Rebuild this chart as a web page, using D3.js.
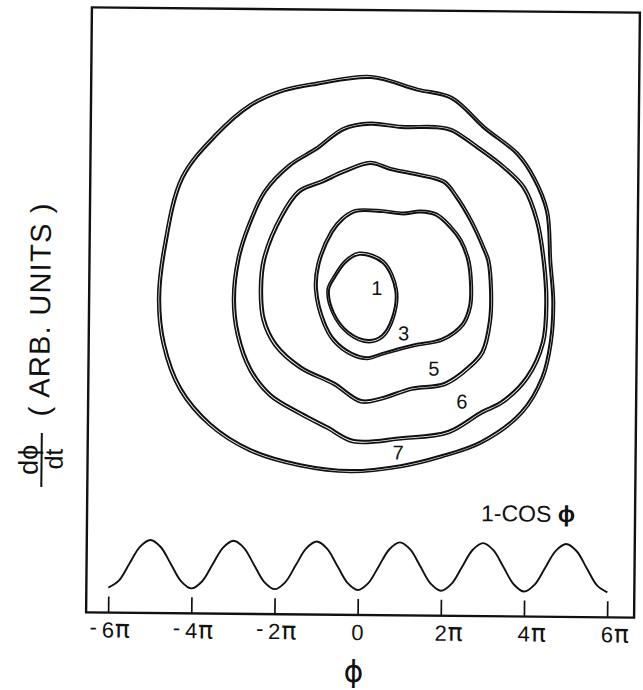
<!DOCTYPE html>
<html><head><meta charset="utf-8">
<script src="https://cdn.jsdelivr.net/npm/d3@7"></script>
<style>body{margin:0;background:#fff} svg{display:block}</style>
</head><body>
<svg id="c" width="643" height="690"></svg>
<script>
// ---- data (phi in units of pi, dphi/dt in arbitrary units) ----
const xTicks = [-6, -4, -2, 0, 2, 4, 6];
const xTickDigits = ["6", "4", "2", "0", "2", "4", "6"];
const xTickSigns = ["-", "-", "-", "", "", "", ""];
const xTickPi = ["π", "π", "π", "", "π", "π", "π"];

const orbitLabels = ["1", "3", "5", "6", "7"];
const orbit1 = [[-0.04,1.13],[0.52,0.94],[0.83,0.29],[0.76,-0.36],[0.52,-0.79],[0.20,-0.91],[-0.28,-0.72],[-0.64,-0.26],[-0.76,0.29],[-0.61,0.60],[-0.37,0.94]];
const orbit3 = [[-0.13,2.16],[0.52,2.16],[1.00,2.11],[1.41,2.16],[1.79,2.09],[2.13,1.80],[2.37,1.49],[2.56,1.01],[2.63,0.41],[2.61,-0.07],[2.44,-0.50],[1.96,-0.86],[1.31,-1.00],[1.00,-1.08],[0.52,-1.22],[0.20,-1.32],[-0.20,-1.22],[-0.61,-0.91],[-0.85,-0.50],[-1.05,0.29],[-1.00,0.89],[-0.69,1.66],[-0.44,1.97]];
const orbit5 = [[0.20,3.31],[0.69,3.17],[1.31,3.05],[1.96,2.88],[2.27,2.52],[2.61,1.97],[2.92,1.32],[3.04,1.01],[3.11,0.29],[3.09,-0.43],[2.92,-1.15],[2.61,-1.51],[2.03,-1.92],[1.24,-2.04],[0.52,-2.28],[0.04,-2.35],[-0.61,-1.94],[-1.41,-1.56],[-2.01,-1.03],[-2.30,-0.43],[-2.37,0.29],[-2.30,1.01],[-1.89,2.04],[-1.48,2.62],[-0.93,2.86],[-0.44,3.09]];
const orbit6 = [[0.20,4.25],[0.93,4.18],[1.79,4.18],[2.13,4.12],[2.75,3.72],[3.40,3.24],[3.88,2.76],[4.20,1.97],[4.37,1.01],[4.44,0.05],[4.37,-0.91],[4.00,-1.75],[3.40,-2.35],[2.92,-2.59],[2.13,-3.07],[1.00,-3.23],[-0.13,-3.31],[-0.76,-2.99],[-1.41,-2.66],[-2.13,-2.23],[-2.61,-1.63],[-2.92,-0.79],[-3.02,0.05],[-2.92,1.01],[-2.68,1.80],[-2.30,2.62],[-1.72,3.24],[-1.09,3.64],[-0.44,4.12]];
const orbit7 = [[0.20,5.37],[1.31,5.08],[2.13,4.89],[2.92,4.19],[3.72,3.57],[4.12,3.00],[4.44,2.21],[4.53,1.01],[4.61,0.05],[4.56,-0.91],[4.37,-1.75],[3.88,-2.59],[2.92,-3.31],[1.96,-3.66],[1.00,-3.90],[-0.20,-4.03],[-1.41,-3.90],[-2.61,-3.55],[-3.57,-2.95],[-4.29,-2.11],[-4.70,-1.03],[-4.82,0.05],[-4.70,1.25],[-4.29,2.93],[-3.50,3.95],[-2.68,4.67],[-1.89,5.03],[-1.09,5.20]];
const orbits = [orbit1, orbit3, orbit5, orbit6, orbit7];

// potential 1 - cos(phi), sampled every pi/4 from -6pi to 6pi
const potPhi = [-6,-5.75,-5.5,-5.25,-5,-4.75,-4.5,-4.25,-4,-3.75,-3.5,-3.25,-3,-2.75,-2.5,-2.25,-2,-1.75,-1.5,-1.25,-1,-0.75,-0.5,-0.25,0,0.25,0.5,0.75,1,1.25,1.5,1.75,2,2.25,2.5,2.75,3,3.25,3.5,3.75,4,4.25,4.5,4.75,5,5.25,5.5,5.75,6];
const potVal = [0,0.29,1,1.71,2,1.71,1,0.29,0,0.29,1,1.71,2,1.71,1,0.29,0,0.29,1,1.71,2,1.71,1,0.29,0,0.29,1,1.71,2,1.71,1,0.29,0,0.29,1,1.71,2,1.71,1,0.29,0,0.29,1,1.71,2,1.71,1,0.29,0];

// ---- drawing ----
const svg = d3.select("#c");
const ink = "#111";
const g = svg.append("g").attr("transform", "rotate(0.55,364,312)");

const x = d3.scaleLinear().domain([-6, 6]).range([111, 610]);
const y = d3.scaleLinear().domain([-7.5, 7]).range([615, 10]);
const yPot = d3.scaleLinear().domain([0, 2]).range([590, 542]);

// frame
g.append("rect").attr("x", 89).attr("y", 10).attr("width", 548).attr("height", 605)
  .attr("fill", "none").attr("stroke", ink).attr("stroke-width", 2.4);

// bottom axis ticks (inward)
const axis = d3.axisBottom(x).tickValues(xTicks).tickSize(-16).tickFormat("");
const ax = g.append("g").attr("transform", "translate(0,615)").call(axis);
ax.select(".domain").remove();
ax.selectAll("line").attr("stroke", ink).attr("stroke-width", 1.7);

// tick labels: digit centered on tick, sign left, pi right
const font = "'Liberation Sans', Arial, Helvetica, sans-serif";
const tl = g.append("g").attr("font-family", font).attr("fill", ink);
xTicks.forEach((t, i) => {
  const cx = x(t);
  tl.append("text").attr("x", cx).attr("y", 640).attr("text-anchor", "middle")
    .attr("font-size", 22).text(xTickDigits[i]);
  if (xTickSigns[i]) tl.append("text").attr("x", cx - 11).attr("y", 637).attr("text-anchor", "end")
    .attr("font-size", 22).text(xTickSigns[i]);
  if (xTickPi[i]) tl.append("text").attr("x", cx + 7).attr("y", 640).attr("text-anchor", "start")
    .attr("font-family", "'DejaVu Sans', sans-serif").attr("font-size", 25).text(xTickPi[i]);
});

// x-axis label
g.append("text").attr("x", 357).attr("y", 682).attr("text-anchor", "middle")
  .attr("font-family", "'DejaVu Sans', sans-serif").attr("font-size", 30).attr("fill", ink).text("ϕ");

// y-axis label
const yl = g.append("g").attr("font-family", font).attr("fill", ink);
yl.append("text").attr("transform", "translate(50,313) rotate(-90)").attr("text-anchor", "middle")
  .attr("font-size", 29).attr("textLength", 213).attr("lengthAdjust", "spacing").text("( ARB. UNITS )");
yl.append("text").attr("transform", "translate(39,463) rotate(-90)").attr("text-anchor", "middle")
  .attr("font-size", 27).text("dϕ");
yl.append("line").attr("x1", 43).attr("x2", 43).attr("y1", 436).attr("y2", 490)
  .attr("stroke", ink).attr("stroke-width", 2);
yl.append("text").attr("transform", "translate(64,462) rotate(-90)").attr("text-anchor", "middle")
  .attr("font-size", 25).text("dt");

// potential curve
const potLine = d3.line().x(d => x(d[0])).y(d => yPot(d[1])).curve(d3.curveCatmullRom.alpha(0.5));
g.append("path").datum(potPhi.map((p, i) => [p, potVal[i]])).attr("d", potLine)
  .attr("fill", "none").attr("stroke", ink).attr("stroke-width", 1.9);
g.append("text").attr("x", 483).attr("y", 520).attr("font-family", font).attr("font-size", 23)
  .attr("fill", ink).text("1-COS ").append("tspan").attr("font-weight", "bold").text("ϕ");

// orbits, each traced twice
const orbitLine = d3.line().x(d => x(d[0])).y(d => y(d[1])).curve(d3.curveCatmullRomClosed.alpha(0.5));
const traceScale = [1.06, 1.03, 1.022, 1.016, 1.012];
orbits.forEach((o, i) => {
  const cxp = d3.mean(o, d => x(d[0])), cyp = d3.mean(o, d => y(d[1]));
  g.append("path").datum(o).attr("d", orbitLine).attr("fill", "none")
    .attr("stroke", ink).attr("stroke-width", 2);
  const s = traceScale[i];
  g.append("path").datum(o).attr("d", orbitLine).attr("fill", "none")
    .attr("transform", `translate(${cxp},${cyp}) scale(${s}) translate(${-cxp},${-cyp})`)
    .attr("vector-effect", "non-scaling-stroke")
    .attr("stroke", ink).attr("stroke-width", 1.6);
});

// orbit labels
const labelPos = [[0.39, 0.34], [1.04, -0.74], [1.78, -1.58], [2.46, -2.36], [0.94, -3.6]];
orbitLabels.forEach((t, i) => {
  g.append("text").attr("x", x(labelPos[i][0])).attr("y", y(labelPos[i][1]) + 7)
    .attr("text-anchor", "middle").attr("font-family", font).attr("font-size", 20)
    .attr("fill", ink).text(t);
});
</script>
</body></html>
